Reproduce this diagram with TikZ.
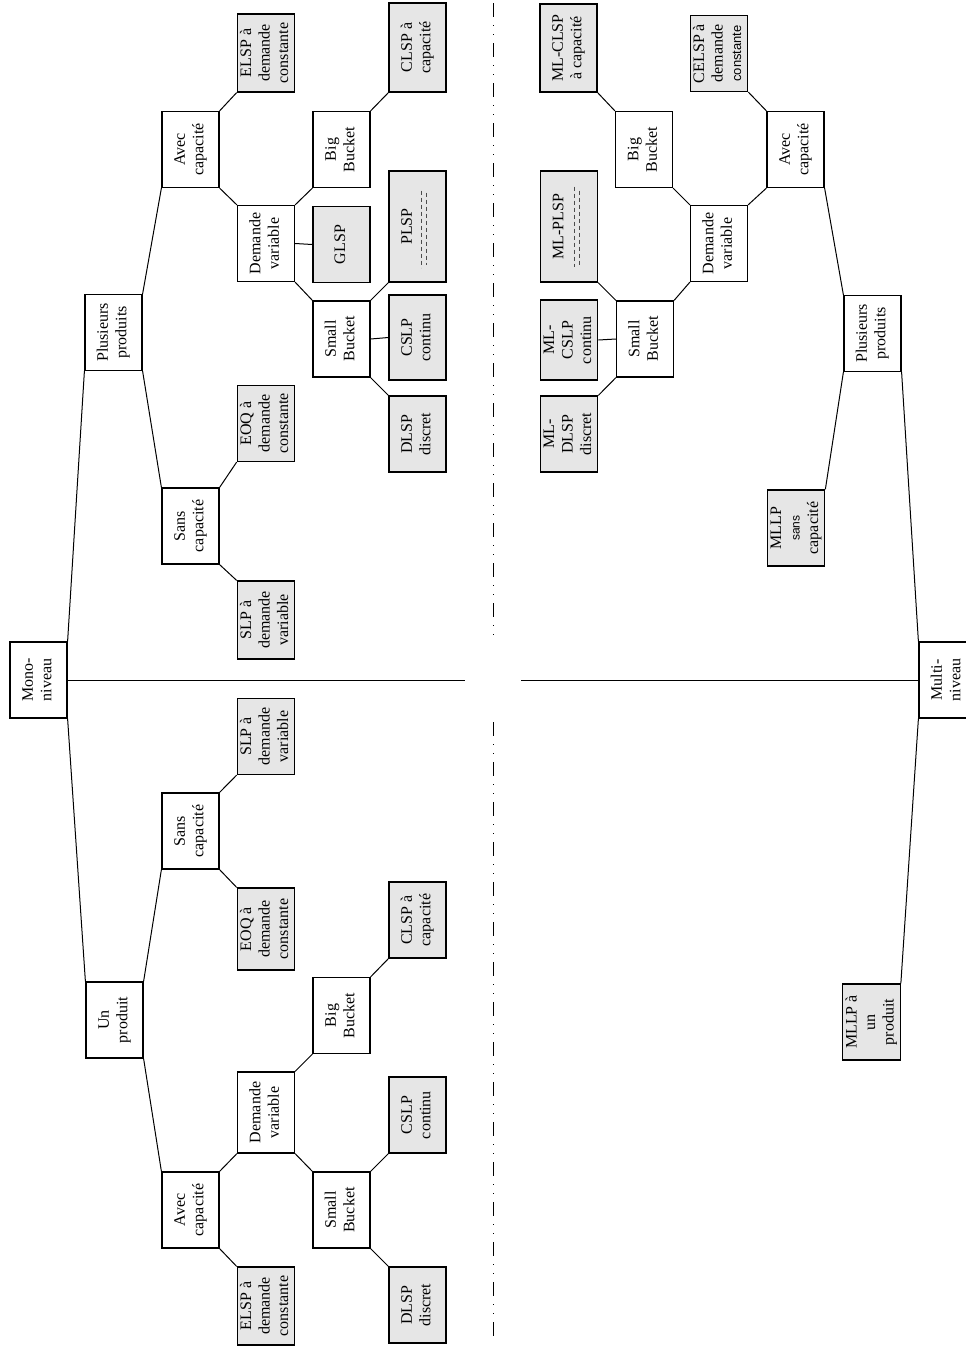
\documentclass[tikz,border=0pt]{standalone}
\usepackage{fontspec}
\setmainfont{Liberation Serif}
\setsansfont{Liberation Sans}
\usepackage{graphicx}
\usetikzlibrary{calc}
\definecolor{LeafGray}{HTML}{E6E6E6}
\newcommand{\vtext}[1]{\rotatebox{90}{\begin{tabular}{@{}c@{}}#1\end{tabular}}}

\begin{document}
\begin{tikzpicture}[x=1pt, y=-1pt,
  every node/.style={font=\fontsize{16}{18.5}\selectfont},
  box/.style={rectangle, draw, line width=1.2pt, inner sep=1pt,
              minimum width=57pt, minimum height=76pt},
  leaf/.style={box, fill=LeafGray},
  link/.style={line width=1pt},
  sep/.style={line width=1pt, dash pattern=on 14pt off 8pt on 1pt off 8pt on 1pt off 8pt},
  garble/.style={line width=0.8pt, gray!60!black, dash pattern=on 4pt off 3pt}
]
\useasboundingbox (0,0) rectangle (966,1358);

% Roots
\node[box] (mono)  at (38.5,680)  {\vtext{Mono-\\niveau}};
\node[box] (multi) at (947.5,680) {\vtext{Multi-\\niveau}};

% Mono-niveau, plusieurs produits
\node[box]  (pp)    at (113.5,332.5) {\vtext{Plusieurs\\produits}};
\node[box]  (uA)    at (190.5,149.5) {\vtext{Avec\\capacité}};
\node[box]  (uS)    at (190.5,526)   {\vtext{Sans\\capacité}};
\node[leaf, minimum height=78pt] (uELSP) at (266,53) {\vtext{ELSP à\\demande\\constante}};
\node[box]  (uDV)   at (266,243.5)   {\vtext{Demande\\variable}};
\node[leaf] (uEOQ)  at (266,423.5)   {\vtext{EOQ à\\demande\\constante}};
\node[leaf, minimum height=78pt] (uSLP) at (266,620) {\vtext{SLP à\\demande\\variable}};
\node[box]  (uBB)   at (341.5,149.5) {\vtext{Big\\Bucket}};
\node[leaf] (uGLSP) at (341.5,244.5) {\vtext{GLSP}};
\node[box]  (uSB)   at (341.5,339)   {\vtext{Small\\Bucket}};
\node[leaf, minimum height=89pt]  (uCLSP) at (417.5,47.5)  {\vtext{CLSP à\\capacité}};
\node[leaf, minimum height=111pt] (uPLSP) at (417.5,226.5) {\vtext{PLSP\\\phantom{à capacité}}};
\node[leaf, minimum height=85pt]  (uCSLP) at (417.5,337.5) {\vtext{CSLP\\continu}};
\node[leaf] (uDLSP) at (417.5,434)   {\vtext{DLSP\\discret}};

% Mono-niveau, un produit
\node[box]  (up)    at (114.5,1020)  {\vtext{Un\\produit}};
\node[box]  (lS)    at (190.5,831)   {\vtext{Sans\\capacité}};
\node[box]  (lA)    at (190.5,1210)  {\vtext{Avec\\capacité}};
\node[leaf] (lSLP)  at (266,736.5)   {\vtext{SLP à\\demande\\variable}};
\node[leaf, minimum height=82pt] (lEOQ) at (266,929) {\vtext{EOQ à\\demande\\constante}};
\node[box, minimum height=81pt]  (lDV)  at (266,1112.5) {\vtext{Demande\\variable}};
\node[leaf, minimum height=78pt] (lELSP) at (266,1306) {\vtext{ELSP à\\demande\\constante}};
\node[box]  (lBB)   at (341.5,1015.5) {\vtext{Big\\Bucket}};
\node[box]  (lSB)   at (341.5,1210)  {\vtext{Small\\Bucket}};
\node[leaf] (lCLSP) at (417.5,920)   {\vtext{CLSP à\\capacité}};
\node[leaf] (lCSLP) at (417.5,1115)  {\vtext{CSLP\\continu}};
\node[leaf] (lDLSP) at (417.5,1305)  {\vtext{DLSP\\discret}};

% Multi-niveau
\node[box]  (mPP)    at (872.5,333.5) {\vtext{Plusieurs\\produits}};
\node[leaf] (mMLLPs) at (796,528)     {\vtext{MLLP\\{\sffamily\fontsize{12}{18.5}\selectfont sans}\\capacité}};
\node[leaf] (mMLLPu) at (871.5,1022)  {\vtext{MLLP à\\un\\produit}};
\node[box]  (mA)     at (795.5,149.5) {\vtext{Avec\\capacité}};
\node[leaf] (mCELSP) at (719,53.5)    {\vtext{CELSP à\\demande\\{\sffamily\fontsize{13}{18.5}\selectfont constante}}};
\node[box]  (mDV)    at (719,243.5)   {\vtext{Demande\\variable}};
\node[box]  (mBB)    at (644,149.5)   {\vtext{Big\\Bucket}};
\node[box]  (mSB)    at (645,339)     {\vtext{Small\\Bucket}};
\node[leaf, minimum height=88pt]  (mCLSP) at (568.5,48)  {\vtext{ML-CLSP\\à capacité}};
\node[leaf, minimum height=111pt] (mPLSP) at (569,226.5) {\vtext{ML-PLSP\\\phantom{à capacité}}};
\node[leaf, minimum height=80pt]  (mCSLP) at (569,340)   {\vtext{ML-\\CSLP\\continu}};
\node[leaf] (mDLSP)  at (569,434)     {\vtext{ML-\\DLSP\\discret}};

% Separators
\coordinate (hl) at (465,680);
\coordinate (hr) at (521,680);
\coordinate (vt) at (493,3);
\coordinate (vm1) at (493,640);
\coordinate (vm2) at (493,722);
\coordinate (vb) at (493,1343);
\draw[link] (mono.east) -- (hl);
\draw[link] (multi.west) -- (hr);
\draw[sep] (vt) -- (vm1);
\draw[sep] (vm2) -- (vb);

% Links, mono-niveau
\draw[link] (mono.north east) -- (pp.south west);
\draw[link] (mono.south east) -- (up.north west);
\draw[link] (pp.north east) -- (uA.south west);
\draw[link] (pp.south east) -- (uS.north west);
\draw[link] (uA.north east) -- (uELSP.south west);
\draw[link] (uA.south east) -- (uDV.north west);
\draw[link] (uS.north east) -- (uEOQ.south west);
\draw[link] (uS.south east) -- (uSLP.north west);
\draw[link] (uDV.north east) -- (uBB.south west);
\draw[link] (uDV.east) -- (uGLSP.west);
\draw[link] (uDV.south east) -- (uSB.north west);
\draw[link] (uBB.north east) -- (uCLSP.south west);
\draw[link] (uSB.north east) -- (uPLSP.south west);
\draw[link] (uSB.east) -- (uCSLP.west);
\draw[link] (uSB.south east) -- (uDLSP.north west);
\draw[link] (up.north east) -- (lS.south west);
\draw[link] (up.south east) -- (lA.north west);
\draw[link] (lS.north east) -- (lSLP.south west);
\draw[link] (lS.south east) -- (lEOQ.north west);
\draw[link] (lA.north east) -- (lDV.south west);
\draw[link] (lA.south east) -- (lELSP.north west);
\draw[link] (lDV.north east) -- (lBB.south west);
\draw[link] (lDV.south east) -- (lSB.north west);
\draw[link] (lBB.north east) -- (lCLSP.south west);
\draw[link] (lSB.north east) -- (lCSLP.south west);
\draw[link] (lSB.south east) -- (lDLSP.north west);

% Links, multi-niveau
\draw[link] (multi.north west) -- (mPP.south east);
\draw[link] (multi.south west) -- (mMLLPu.north east);
\draw[link] (mPP.north west) -- (mA.south east);
\draw[link] (mPP.south west) -- (mMLLPs.north east);
\draw[link] (mA.north west) -- (mCELSP.south east);
\draw[link] (mA.south west) -- (mDV.north east);
\draw[link] (mDV.north west) -- (mBB.south east);
\draw[link] (mDV.south west) -- (mSB.north east);
\draw[link] (mBB.north west) -- (mCLSP.south east);
\draw[link] (mSB.north west) -- (mPLSP.south east);
\draw[link] (mSB.west) -- (mCSLP.east);
\draw[link] (mSB.south west) -- (mDLSP.north east);

% Unreadable second line in the PLSP boxes
\draw[garble] ($(uPLSP.center)+(4,-36)$) -- ++(0,77);
\draw[garble] ($(uPLSP.center)+(9,-34)$) -- ++(0,72);
\draw[garble] ($(mPLSP.center)+(5,-40)$) -- ++(0,80);
\draw[garble] ($(mPLSP.center)+(10,-36)$) -- ++(0,74);

\end{tikzpicture}
\end{document}
